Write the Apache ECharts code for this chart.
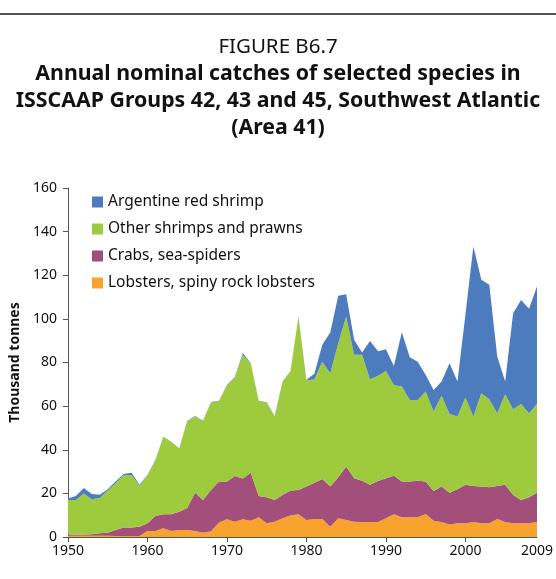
<!DOCTYPE html>
<html>
<head>
<meta charset="utf-8">
<script src="https://cdn.jsdelivr.net/npm/echarts@6/dist/echarts.min.js"></script>
<style>
html,body{margin:0;padding:0;background:#fff;}
#chart{width:556px;height:579px;}
</style>
</head>
<body>
<div id="chart"></div>
<script>
var years = [];
for (var y = 1950; y <= 2009; y++) years.push(String(y));

var lobsters = [0.6,0.6,0.6,0.6,0.6,0.6,0.5,0.5,0.5,0.5,
  2.8,2.8,4.0,2.8,3.2,3.2,2.8,2.0,2.6,6.6,
  8.1,7.0,8.1,7.5,9.0,6.3,7.0,8.6,9.8,10.4,
  7.8,8.3,8.3,4.7,8.6,7.8,7.0,6.9,6.9,6.9,
  8.6,10.4,9.0,9.0,9.0,10.6,7.5,6.9,5.7,6.3,
  6.3,6.9,6.3,6.3,8.3,6.9,6.3,6.3,6.3,6.9];
var crabs = [0.6,0.6,0.6,0.7,1.1,1.4,2.7,3.9,3.9,4.2,
  3.5,6.8,6.4,7.6,8.4,10.1,17.5,15.0,19.0,18.8,
  17.3,21.0,18.7,22.0,9.8,11.9,10.0,10.7,11.5,11.2,
  15.3,16.6,18.3,18.4,18.8,24.5,19.9,18.9,17.0,18.8,
  18.3,17.7,16.4,16.4,16.8,14.8,13.6,16.2,14.6,15.6,
  17.6,16.5,16.8,16.5,15.1,17.0,13.0,10.7,11.9,13.4];
var otherShrimps = [15.8,15.8,18.8,16.0,16.2,19.3,21.4,24.0,24.0,18.8,
  21.9,25.5,35.3,33.1,29.0,39.7,35.0,36.3,40.1,36.9,
  44.0,45.2,56.7,49.9,43.5,43.4,38.3,51.8,54.7,79.4,
  48.6,47.4,53.8,52.0,61.4,68.8,56.6,57.7,48.4,48.2,
  49.2,41.6,43.6,37.4,37.0,41.3,36.4,41.6,36.1,33.3,
  40.0,31.8,42.8,40.3,33.3,41.5,39.3,44.0,38.5,40.7];
var argentineRed = [0.7,1.8,2.5,2.4,1.5,0.6,0.8,0.5,1.1,0.4,
  0.2,0.2,0.3,0.2,0.1,0.2,0.2,0.1,0.2,0.2,
  0.3,0.3,0.8,0.3,0.2,0.2,0.2,0.2,0.1,0.1,
  0.3,2.5,7.7,18.6,21.8,10.2,6.9,1.1,17.5,11.3,
  10.0,8.7,24.9,19.6,17.6,7.6,9.9,6.6,23.3,16.1,
  38.1,78.0,52.0,52.5,26.0,5.9,44.0,47.7,47.9,53.8];

var seriesNames = ['Argentine red shrimp','Other shrimps and prawns','Crabs, sea-spiders','Lobsters, spiny rock lobsters'];
var yTicks = [0,20,40,60,80,100,120,140,160];
var titleLines = ['Annual nominal catches of selected species in','ISSCAAP Groups 42, 43 and 45, Southwest Atlantic','(Area 41)'];

var FONT = 'Noto Sans';
var chart = echarts.init(document.getElementById('chart'), null, {renderer:'canvas'});

function mk(name, data, color){
  return {
    name: name, type: 'line', stack: 'total', data: data,
    symbol: 'none', showSymbol: false,
    lineStyle: {width: 0},
    itemStyle: {color: color},
    areaStyle: {color: color, opacity: 1},
    emphasis: {disabled: true},
    animation: false
  };
}

var graphics = [
  {type: 'line', shape: {x1: 0, y1: 14, x2: 556, y2: 14}, style: {stroke: '#555', lineWidth: 2}},
  {type: 'text', x: 278, y: 47, style: {text: 'FIGURE B6.7', x: 0, y: 0, textAlign: 'center', textVerticalAlign: 'middle',
    font: 'normal 20.5px "Noto Sans"', fill: '#111'}}
];
for (var i = 0; i < titleLines.length; i++) {
  graphics.push({type: 'text', x: 278, y: 74 + i * 27, style: {text: titleLines[i], x: 0, y: 0,
    textAlign: 'center', textVerticalAlign: 'middle', font: 'bold 21.3px "Noto Sans"', fill: '#111'}});
}

chart.setOption({
  animation: false,
  backgroundColor: '#fff',
  graphic: graphics,
  legend: {
    data: seriesNames, orient: 'vertical', left: 87, top: 189,
    itemWidth: 11, itemHeight: 11, itemGap: 11, icon: 'rect',
    textStyle: {fontFamily: FONT, fontSize: 15.5, color: '#111', lineHeight: 15}
  },
  grid: {left: 58, right: 13, top: 188, bottom: 42, containLabel: false},
  xAxis: {
    type: 'category', data: years, boundaryGap: false,
    axisLine: {lineStyle: {color: '#555', width: 1}},
    axisTick: {show: true, length: 5, lineStyle: {color: '#555'},
      interval: function(i, v){ return Number(v) % 10 === 0; }},
    axisLabel: {fontFamily: FONT, fontSize: 14, color: '#111', margin: 7,
      interval: function(i, v){ return Number(v) % 10 === 0 || v === '2009'; }},
    splitLine: {show: false}
  },
  yAxis: {
    type: 'value', min: 0, max: 160, interval: 20,
    name: 'Thousand tonnes', nameLocation: 'middle', nameGap: 42,
    nameTextStyle: {fontFamily: FONT, fontSize: 14, fontWeight: 'bold', color: '#111'},
    axisLine: {show: true, lineStyle: {color: '#555', width: 1}},
    axisTick: {show: true, length: 5, lineStyle: {color: '#555'}},
    axisLabel: {fontFamily: FONT, fontSize: 14, color: '#111', margin: 11,
      formatter: function(v){ return yTicks.indexOf(v) >= 0 ? String(v) : ''; }},
    splitLine: {show: false}
  },
  series: [
    mk(seriesNames[3], lobsters, '#F8A32E'),
    mk(seriesNames[2], crabs, '#A24F7B'),
    mk(seriesNames[1], otherShrimps, '#9ECA3D'),
    mk(seriesNames[0], argentineRed, '#4C7BBE')
  ]
});
</script>
</body>
</html>
